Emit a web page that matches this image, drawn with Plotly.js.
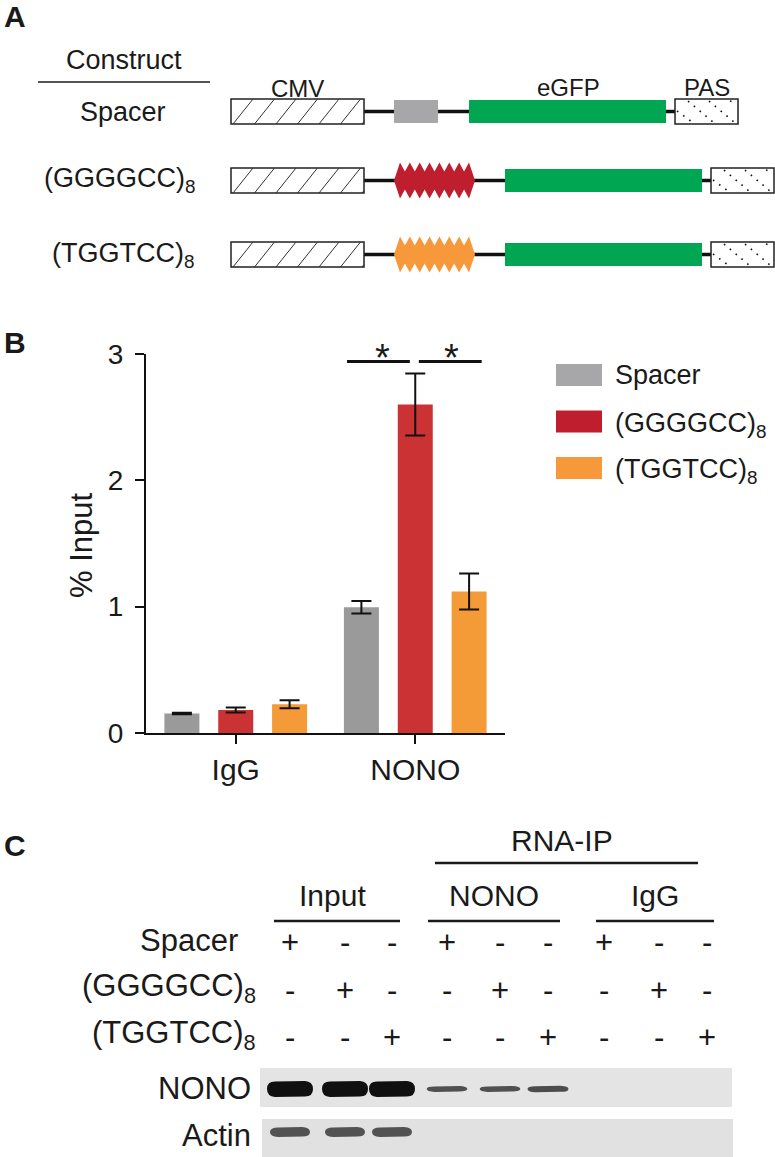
<!DOCTYPE html>
<html>
<head>
<meta charset="utf-8">
<script src="https://cdn.plot.ly/plotly-3.0.1.min.js"></script>
<style>
  html, body { margin: 0; padding: 0; background: #fff; }
  #fig { width: 775px; height: 1157px; }
</style>
</head>
<body>
<div id="fig"></div>
<script>
// ---- data ----
const categories = ['IgG', 'NONO'];
const seriesNames = ['Spacer', '(GGGGCC)<sub>8</sub>', '(TGGTCC)<sub>8</sub>'];
const spacerVals = [0.155, 0.995];
const spacerErr = [0.006, 0.05];
const g4c2Vals = [0.182, 2.60];
const g4c2Err = [0.02, 0.245];
const tg2tc2Vals = [0.227, 1.12];
const tg2tc2Err = [0.032, 0.143];
const yTicks = [0, 1, 2, 3];

// panel A
const constructs = ['Spacer', '(GGGGCC)<sub>8</sub>', '(TGGTCC)<sub>8</sub>'];
const elementLabels = ['CMV', 'eGFP', 'PAS'];
const repeatCount = 8;

// panel C
const laneGroups = ['Input', 'NONO', 'IgG'];
const rowSpacer = ['+', '-', '-', '+', '-', '-', '+', '-', '-'];
const rowG4C2 = ['-', '+', '-', '-', '+', '-', '-', '+', '-'];
const rowTG2TC2 = ['-', '-', '+', '-', '-', '+', '-', '-', '+'];
const blotNames = ['NONO', 'Actin'];
const nonoSignal = [1, 1, 1, 0.33, 0.33, 0.38, 0, 0, 0];
const actinSignal = [1, 1, 1, 0, 0, 0, 0, 0, 0];

// ---- styles / geometry helpers ----
const W = 775, H = 1157;
const FONT = 'Liberation Sans, Arial, Helvetica, sans-serif';
const INK = '#1a1a1a';
const barColors = ['#9a9a9a', '#cb3234', '#f49a37'];
const keyColors = ['#a7a7aa', '#be1e2d', '#f7993a'];
const GREEN = '#00a651';

const fx = x => x / W;
const fy = y => 1 - y / H;
const pt = (x, y) => fx(x).toFixed(5) + ',' + fy(y).toFixed(5);

const shapes = [];
const annotations = [];

function rect(x0, y0, x1, y1, fill, lineColor, lineWidth) {
  shapes.push({
    type: 'rect', xref: 'paper', yref: 'paper',
    x0: fx(x0), x1: fx(x1), y0: fy(y1), y1: fy(y0),
    fillcolor: fill, line: { color: lineColor || fill, width: lineWidth || 0 }
  });
}
function seg(x0, y0, x1, y1, color, width, dash) {
  shapes.push({
    type: 'line', xref: 'paper', yref: 'paper',
    x0: fx(x0), x1: fx(x1), y0: fy(y0), y1: fy(y1),
    line: { color: color, width: width, dash: dash || 'solid' }
  });
}
function path(d, fill, opacity) {
  shapes.push({ type: 'path', xref: 'paper', yref: 'paper', path: d,
    fillcolor: fill, opacity: opacity == null ? 1 : opacity, line: { width: 0 } });
}
function label(x, y, txt, size, xanchor, bold, angle) {
  annotations.push({
    xref: 'paper', yref: 'paper', x: fx(x), y: fy(y), text: bold ? '<b>' + txt + '</b>' : txt,
    showarrow: false, xanchor: xanchor || 'center', yanchor: 'middle', textangle: angle || 0,
    font: { family: FONT, size: size, color: INK }
  });
}

// diagonal hatch ("/") clipped to a box
function hatch(x0, y0, x1, y1, step, dx) {
  for (let s = x0 + 2 - step; s < x1; s += step) {
    let ax = s, ay = y1, bx = s + dx, by = y0;
    if (ax < x0) { const t = (x0 - s) / dx; ax = x0; ay = y1 - t * (y1 - y0); }
    if (bx > x1) { const t = (x1 - s) / dx; bx = x1; by = y1 - t * (y1 - y0); }
    seg(ax, ay, bx, by, '#333', 1);
  }
}
// dotted "\" pattern of the PAS box
function dots(x0, y0, x1, y1) {
  const h = y1 - y0;
  for (let s = x0 - 8; s < x1; s += 21) {
    let ax = s, ay = y0 + 2, bx = s + h, by = y1 - 2;
    if (ax < x0 + 2) { ay += (x0 + 2 - ax); ax = x0 + 2; }
    if (bx > x1 - 2) { by -= (bx - (x1 - 2)); bx = x1 - 2; }
    if (bx > ax) seg(ax, ay, bx, by, '#111', 1.6, '1.6px,6px');
  }
}
// repeat motif: n overlapping diamonds
function repeats(x0, x1, cy, n, color) {
  const hh = 18, depth = 9, e = 6;
  const s = (x1 - x0 - 2 * e) / (n - 1);
  const peaks = [];
  for (let i = 0; i < n; i++) peaks.push(x0 + e + i * s);
  let d = 'M' + pt(x0, cy);
  peaks.forEach((p, i) => {
    if (i > 0) d += ' L' + pt(p - s / 2, cy - hh + depth);
    d += ' L' + pt(p, cy - hh);
  });
  d += ' L' + pt(x1, cy);
  for (let i = n - 1; i >= 0; i--) {
    d += ' L' + pt(peaks[i], cy + hh);
    if (i > 0) d += ' L' + pt(peaks[i] - s / 2, cy + hh - depth);
  }
  path(d + ' Z', color);
}
// western blot band
function band(xc, yc, w, h, color, opacity) {
  const l = xc - w / 2, r = xc + w / 2, t = yc - h / 2, b = yc + h / 2, k = Math.min(8, w / 4);
  const d = 'M' + pt(l, yc) + ' Q' + pt(l, t) + ' ' + pt(l + k, t) + ' L' + pt(r - k, t - 0.5) +
    ' Q' + pt(r, t) + ' ' + pt(r, yc) + ' Q' + pt(r, b) + ' ' + pt(r - k, b) +
    ' L' + pt(l + k, b + 0.5) + ' Q' + pt(l, b) + ' ' + pt(l, yc) + ' Z';
  path(d, color, opacity);
}

// ---- panel A: constructs ----
label(15, 17, 'A', 30, 'center', true);
label(124, 60, 'Construct', 27);
seg(38, 82, 210, 82, INK, 1.5);
label(297, 88, elementLabels[0], 24);
label(568, 87, elementLabels[1], 24);
label(707, 87, elementLabels[2], 24);

const rowTop = [99, 168, 242];
const rowLabelX = [123, 120, 123];
const repeatColors = [null, keyColors[1], keyColors[2]];
constructs.forEach((name, i) => {
  const t = rowTop[i], b = t + 25, cy = (t + b) / 2;
  const pas = i === 0 ? [675, 738] : [711, 774];
  const gfp = i === 0 ? [469, 666] : [505, 702];
  label(rowLabelX[i], cy, name, 27);
  seg(364, cy, pas[0], cy, '#111', 3.5);
  rect(231, t, 364, b, '#fff', '#222', 1.5);
  hatch(231, t, 364, b, 21.5, 20);
  if (i === 0) rect(394, t + 1, 438, b - 1, keyColors[0]);
  else repeats(394, 475, cy, repeatCount, repeatColors[i]);
  rect(gfp[0], t + 1, gfp[1], b - 1, GREEN);
  rect(pas[0], t, pas[1], b, '#fff', '#222', 1.5);
  dots(pas[0], t, pas[1], b);
});

// ---- panel B: bar chart ----
label(15, 342, 'B', 30, 'center', true);
label(82, 545, '% Input', 31, 'center', false, -90);
const seriesVals = [spacerVals, g4c2Vals, tg2tc2Vals];
const seriesErr = [spacerErr, g4c2Err, tg2tc2Err];
const traces = seriesVals.map((vals, i) => ({
  type: 'bar', x: categories, y: vals, name: seriesNames[i],
  marker: { color: barColors[i], line: { width: 0 } },
  error_y: { type: 'data', array: seriesErr[i], visible: true, color: '#111', thickness: 2, width: 10 },
  showlegend: false, hoverinfo: 'skip'
}));

// legend drawn by hand (large swatches)
seriesNames.forEach((name, i) => {
  const cy = 375 + i * 46.5;
  rect(556, cy - 11, 602, cy + 11, keyColors[i]);
  label(613, cy + (i ? 3 : 0), name, 27, 'left');
});

// significance brackets
[[0.62, 0.97, 0.817], [1.02, 1.37, 1.2]].forEach(([a, b, s]) => {
  shapes.push({ type: 'line', xref: 'x', yref: 'y', x0: a, x1: b, y0: 2.94, y1: 2.94,
    line: { color: '#111', width: 3 } });
  annotations.push({ xref: 'x', yref: 'y', x: s, y: 2.965, text: '*', showarrow: false,
    xanchor: 'center', yanchor: 'middle', font: { family: FONT, size: 38, color: INK } });
});

// ---- panel C: RNA-IP blot ----
label(15, 845, 'C', 30, 'center', true);
const laneX = [290, 345, 392, 447, 500, 548, 604, 659, 707];
label(562, 840, 'RNA-IP', 30);
seg(435, 863, 698, 863, INK, 2.5);
const groupSpan = [[274, 400], [428, 560], [596, 714]];
laneGroups.forEach((g, i) => {
  const [a, b] = groupSpan[i];
  label((a + b) / 2 + (i === 0 ? -5 : 0), 895, g, 30);
  seg(a, 921, b, 921, INK, 2.5);
});
const rowSigns = [rowSpacer, rowG4C2, rowTG2TC2];
const rowY = [940, 988, 1035];
const rowRight = [240, 258, 258];
constructs.forEach((name, r) => {
  label(rowRight[r], rowY[r], name, 31, 'right');
  rowSigns[r].forEach((s, j) => label(laneX[j], rowY[r] + 2, s, 31));
});

rect(260, 1068, 732, 1107, '#e4e4e4');
rect(262, 1119, 733, 1160, '#e1e1e1');
label(253, 1088, blotNames[0], 31, 'right');
label(253, 1135, blotNames[1], 31, 'right');
nonoSignal.forEach((v, j) => {
  if (v > 0) band(laneX[j], 1089, 38 + 8 * v, 15 * v, '#101010', 0.55 + 0.45 * v);
});
actinSignal.forEach((v, j) => {
  if (v > 0) band(laneX[j], 1132, 40 * v, 9 * v, '#4a4a4a', 0.95);
});

const layout = {
  width: W, height: H, autosize: false,
  margin: { l: 0, r: 0, t: 0, b: 0 },
  paper_bgcolor: '#fff', plot_bgcolor: 'rgba(0,0,0,0)',
  font: { family: FONT, color: INK },
  barmode: 'group', bargap: 0.1, bargroupgap: 0.35,
  showlegend: false,
  xaxis: {
    domain: [fx(146), fx(505)], type: 'category', range: [-0.5, 1.5],
    showline: true, linecolor: '#111', linewidth: 2,
    ticks: 'outside', ticklen: 9, tickwidth: 2, tickcolor: '#111',
    tickfont: { size: 30, color: INK }, showgrid: false, zeroline: false, automargin: false
  },
  yaxis: {
    domain: [fy(733), fy(354)], range: [0, 3], tickvals: yTicks,
    showline: true, linecolor: '#111', linewidth: 2,
    ticks: 'outside', ticklen: 9, tickwidth: 2, tickcolor: '#111',
    tickfont: { size: 28, color: INK }, ticklabelstandoff: 6,
    showgrid: false, zeroline: false, automargin: false
  },
  shapes: shapes,
  annotations: annotations
};

Plotly.newPlot('fig', traces, layout, { staticPlot: true, displayModeBar: false });
</script>
</body>
</html>
